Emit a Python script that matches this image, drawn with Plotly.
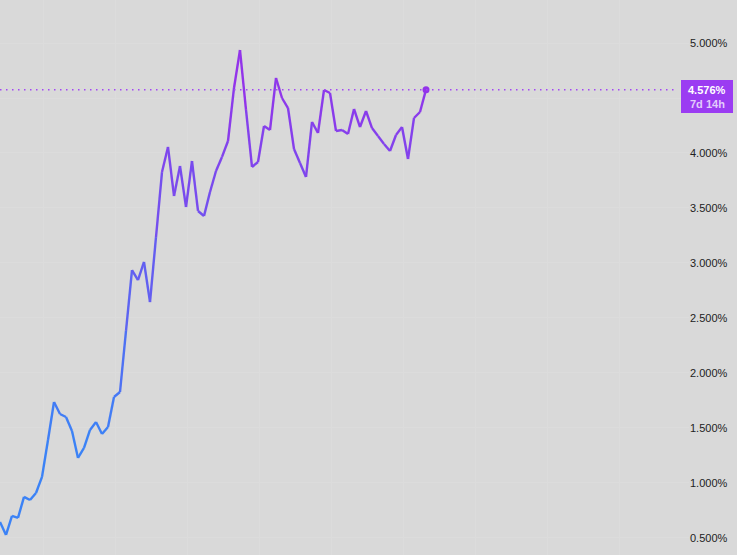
import plotly.graph_objects as go

# ---- data ----
rates = [0.645, 0.527, 0.700, 0.682, 0.873, 0.845, 0.909, 1.055, 1.391, 1.736,
         1.627, 1.600, 1.473, 1.227, 1.318, 1.482, 1.555, 1.445, 1.509, 1.782,
         1.827, 2.382, 2.936, 2.845, 3.009, 2.645, 3.236, 3.827, 4.055, 3.609,
         3.882, 3.509, 3.927, 3.473, 3.427, 3.645, 3.836, 3.964, 4.109, 4.591,
         4.936, 4.391, 3.873, 3.918, 4.245, 4.209, 4.682, 4.500, 4.409, 4.036,
         3.909, 3.782, 4.282, 4.182, 4.573, 4.545, 4.200, 4.209, 4.173, 4.400,
         4.236, 4.382, 4.227, 4.155, 4.082, 4.018, 4.164, 4.236, 3.945, 4.318,
         4.373, 4.576]
steps = list(range(len(rates)))
y_ticks = [0.5, 1.0, 1.5, 2.0, 2.5, 3.0, 3.5, 4.0, 4.5, 5.0]
# the 4.500% label sits under the current-value tag, so it is not shown
tick_labels = ["0.500%", "1.000%", "1.500%", "2.000%", "2.500%", "3.000%",
               "3.500%", "4.000%", "", "5.000%"]
current_label = "4.576%"
countdown_label = "7d 14h"

# ---- styling ----
BG = "#d9d9d9"
BLUE = (59, 130, 246)
PURPLE = (147, 51, 234)
GRAD_LO, GRAD_HI = 1.4, 4.7
W, H = 737, 555
MR = 48
plot_w = W - MR
px_per_step = 6.0
y_lo, y_hi = 0.345, 5.391


def grad(v):
    t = (v - GRAD_LO) / (GRAD_HI - GRAD_LO)
    t = max(0.0, min(1.0, t))
    c = [round(BLUE[i] + (PURPLE[i] - BLUE[i]) * t) for i in range(3)]
    return f"rgb({c[0]},{c[1]},{c[2]})"


def px_x(p):
    return p / plot_w


def px_y(p):
    return 1 - p / H


fig = go.Figure()
for i in range(len(rates) - 1):
    fig.add_trace(go.Scatter(
        x=[steps[i], steps[i + 1]], y=[rates[i], rates[i + 1]],
        mode="lines", line=dict(color=grad((rates[i] + rates[i + 1]) / 2), width=2.4),
        hoverinfo="skip", showlegend=False))

fig.add_trace(go.Scatter(
    x=[steps[-1]], y=[rates[-1]], mode="markers",
    marker=dict(color="#9333ea", size=7), showlegend=False, hoverinfo="skip"))

fig.add_shape(type="line", xref="paper", yref="y",
              x0=0, x1=px_x(678), y0=rates[-1], y1=rates[-1],
              line=dict(color="#a347f5", width=1.5, dash="1.5px,4.5px"))

# price tag box
fig.add_shape(type="rect", xref="paper", yref="paper",
              x0=px_x(681), x1=px_x(733), y0=px_y(113), y1=px_y(80),
              line=dict(width=0), fillcolor="#9b3cf2", layer="above")
tag_font = "Liberation Sans, Arial, sans-serif"
fig.add_annotation(xref="paper", yref="paper", x=px_x(707), y=px_y(90),
                   xanchor="center", yanchor="middle", showarrow=False,
                   borderpad=0,
                   text=f"<b>{current_label}</b>",
                   font=dict(family=tag_font, size=11, color="#ffffff"))
fig.add_annotation(xref="paper", yref="paper", x=px_x(707), y=px_y(104.5),
                   xanchor="center", yanchor="middle", showarrow=False,
                   borderpad=0,
                   text=f"<b>{countdown_label}</b>",
                   font=dict(family=tag_font, size=11, color="#e2cdfb"))

fig.update_layout(
    width=W, height=H,
    margin=dict(l=0, r=MR, t=0, b=0),
    paper_bgcolor=BG, plot_bgcolor=BG,
    showlegend=False,
    xaxis=dict(range=[0, plot_w / px_per_step],
               tickvals=[43 / px_per_step + 12 * k for k in range(10)],
               showticklabels=False, showgrid=True, gridcolor="#dcdcdc", gridwidth=1,
               zeroline=False, showline=False, ticks=""),
    yaxis=dict(range=[y_lo, y_hi], side="right",
               tickvals=y_ticks, ticktext=tick_labels,
               showgrid=True, gridcolor="#dcdcdc", gridwidth=1,
               zeroline=False, showline=False, ticks="",
               tickfont=dict(family="Liberation Sans, Arial, sans-serif", size=11, color="#222222")),
)

fig.write_html("out.html", config={"displayModeBar": False},
               post_script="document.body.style.margin='0';document.body.style.background='#d9d9d9';")
